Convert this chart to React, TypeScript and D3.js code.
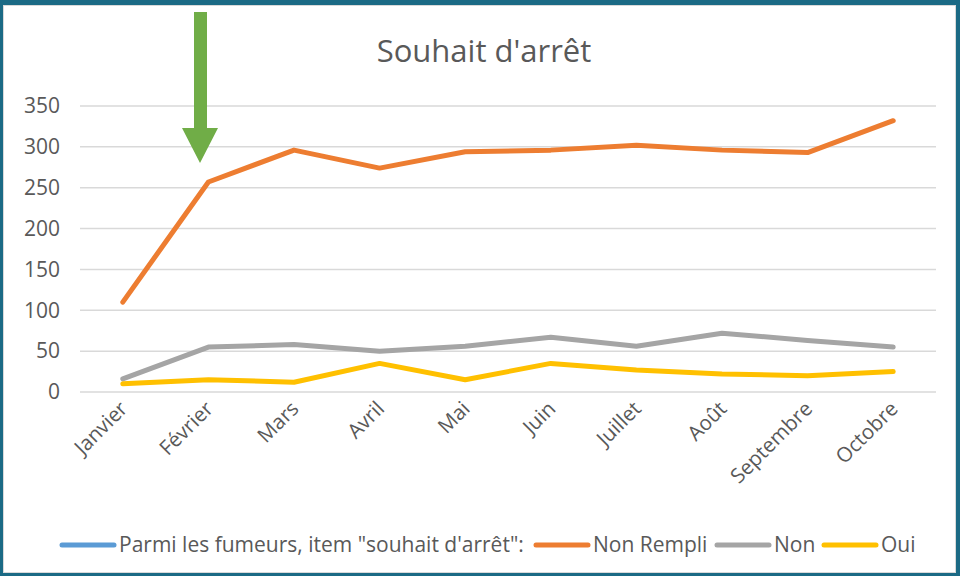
import React, { useEffect } from 'react';
import * as d3 from 'd3';

const months = ['Janvier', 'Février', 'Mars', 'Avril', 'Mai', 'Juin', 'Juillet', 'Août', 'Septembre', 'Octobre'];
const nonRempli = [110, 257, 296, 274, 294, 296, 302, 296, 293, 332];
const non = [16, 55, 58, 50, 56, 67, 56, 72, 63, 55];
const oui = [10, 15, 12, 35, 15, 35, 27, 22, 20, 25];
const yTicks = [0, 50, 100, 150, 200, 250, 300, 350];

const series = [
  { name: 'Non Rempli', values: nonRempli, color: '#ED7D31' },
  { name: 'Non', values: non, color: '#A5A5A5' },
  { name: 'Oui', values: oui, color: '#FFC000' },
];

const legendItems = [
  { name: 'Parmi les fumeurs, item "souhait d\'arrêt":', color: '#5B9BD5' },
  { name: 'Non Rempli', color: '#ED7D31' },
  { name: 'Non', color: '#A5A5A5' },
  { name: 'Oui', color: '#FFC000' },
];

const W = 960;
const H = 576;
const font = '"Open Sans", "Noto Sans", sans-serif';
const textColor = '#595959';

export default function App() {
  useEffect(() => {
    document.body.style.margin = '0';
  }, []);

  const x = d3.scalePoint<string>().domain(months).range([80, 936]).padding(0.5);
  const y = d3.scaleLinear().domain([0, 350]).range([392, 106]);

  const line = d3.line<number>()
    .x((_, i) => x(months[i])!)
    .y((d) => y(d));

  // legend entries start where the reference puts them
  const legendX = [60, 534, 715, 822];

  return (
    <svg width={W} height={H} style={{ display: 'block' }}>
      <rect x={0} y={0} width={W} height={H} fill="#1b6a85" />
      <rect x={3} y={5} width={W - 7} height={H - 8} fill="#d9d9d9" />
      <rect x={4} y={6} width={W - 9} height={H - 10} fill="#ffffff" />

      <text x={484} y={62} textAnchor="middle" fontFamily={font} fontSize={31} fill={textColor}>
        Souhait d'arrêt
      </text>

      {yTicks.map((t) => (
        <g key={t}>
          <line x1={80} x2={936} y1={y(t)} y2={y(t)} stroke="#d9d9d9" strokeWidth={1.5} />
          <text x={60} y={y(t)} dy="0.35em" textAnchor="end" fontFamily={font} fontSize={21} fill={textColor}>
            {t}
          </text>
        </g>
      ))}

      {months.map((m) => (
        <text
          key={m}
          transform={`translate(${x(m)! + 6},${410}) rotate(-45)`}
          textAnchor="end"
          fontFamily={font}
          fontSize={20.5}
          fill={textColor}
        >
          {m}
        </text>
      ))}

      {series.map((s) => (
        <path
          key={s.name}
          d={line(s.values)!}
          fill="none"
          stroke={s.color}
          strokeWidth={5}
          strokeLinejoin="round"
          strokeLinecap="round"
        />
      ))}

      {/* green arrow */}
      <path d="M194,12 H207 V128 H218 L200,163 L182,128 H194 Z" fill="#70AD47" />

      {legendItems.map((l, i) => (
        <g key={l.name} transform={`translate(${legendX[i]},545)`}>
          <line x1={2} x2={54} y1={0} y2={0} stroke={l.color} strokeWidth={5} strokeLinecap="round" />
          <text x={59} y={0} dy="0.35em" fontFamily={font} fontSize={21} fill={textColor}>
            {l.name}
          </text>
        </g>
      ))}
    </svg>
  );
}
